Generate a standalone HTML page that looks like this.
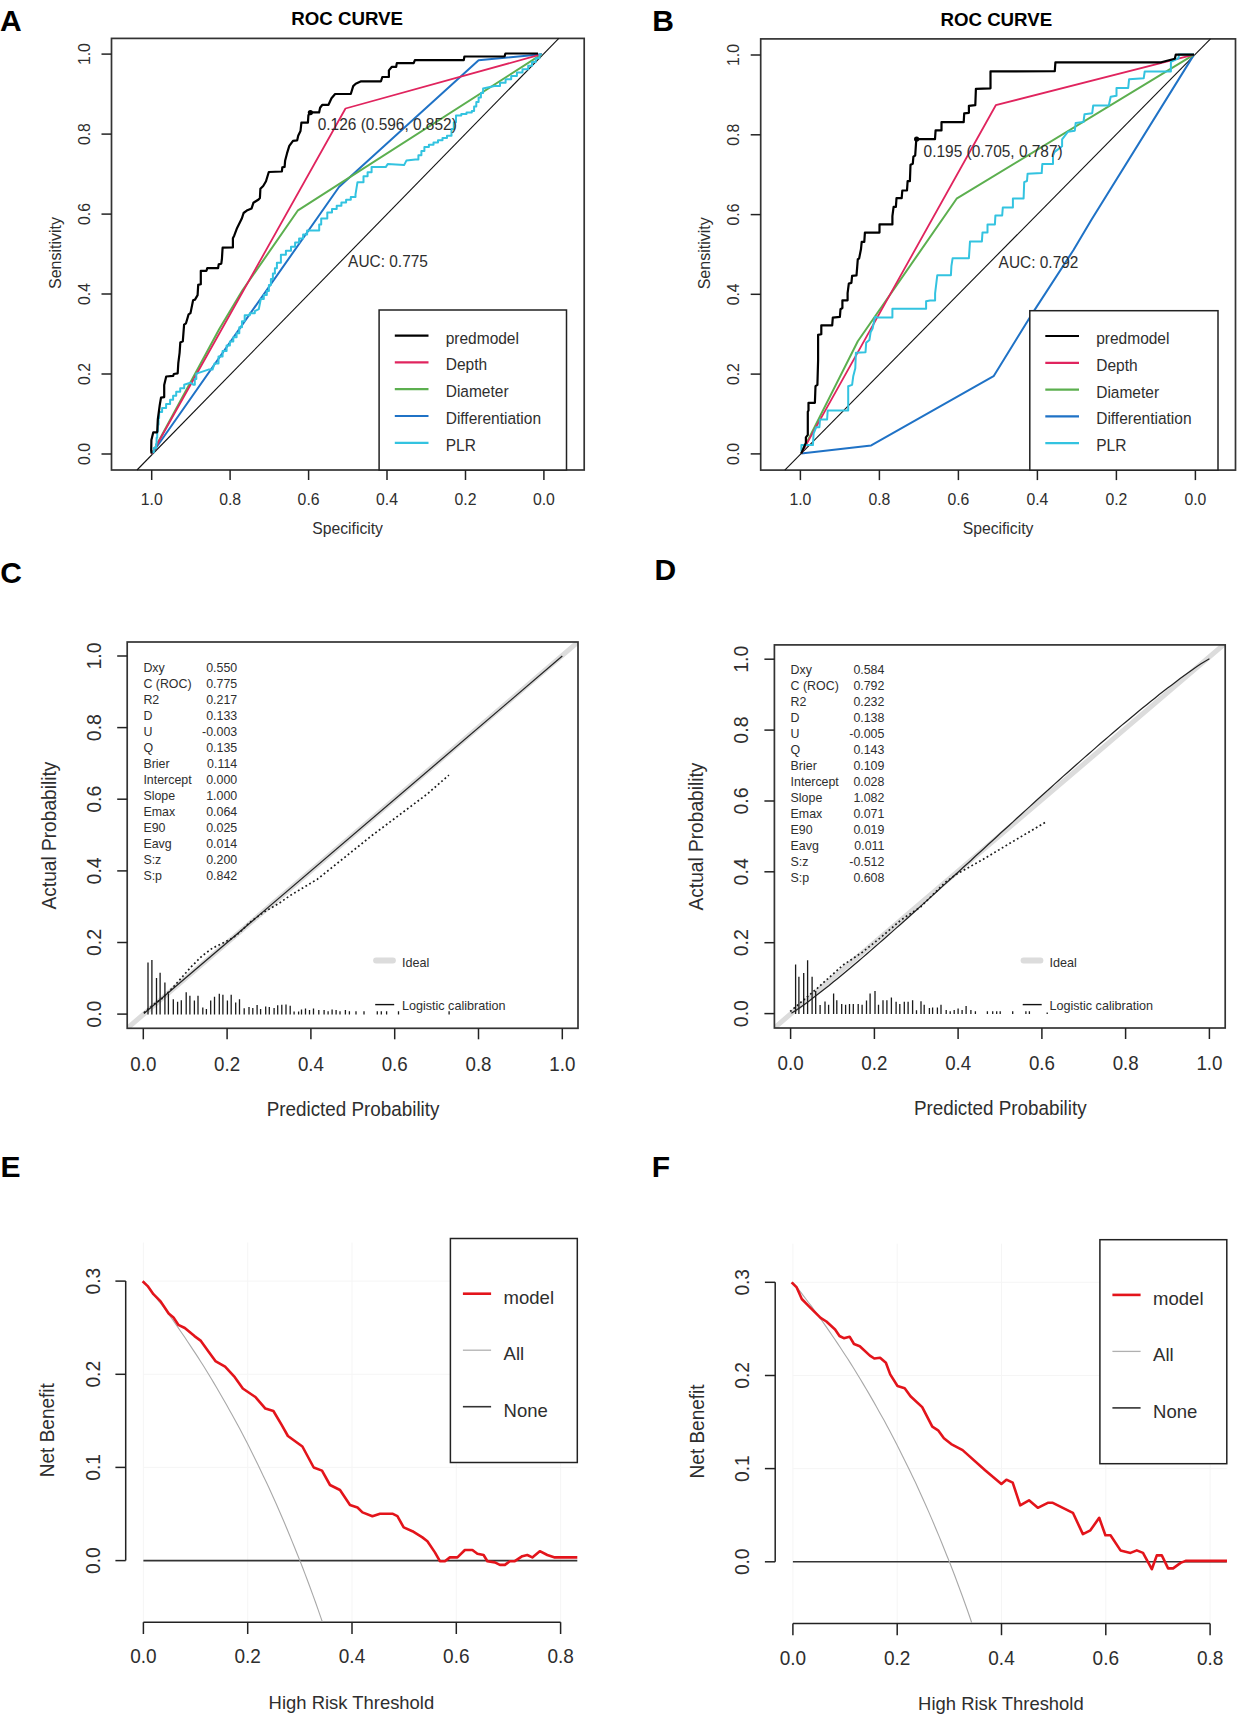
<!DOCTYPE html>
<html><head><meta charset="utf-8"><style>
html,body{margin:0;padding:0;background:#fff;}
svg{display:block;}
text{font-family:"Liberation Sans", sans-serif;}
</style></head><body>
<svg width="1241" height="1717" viewBox="0 0 1241 1717">
<rect width="1241" height="1717" fill="#fff"/>
<rect x="111.5" y="38.4" width="472.7" height="431.6" fill="none" stroke="#333" stroke-width="1.7"/>
<line x1="137.0" y1="470.0" x2="558.8" y2="38.4" stroke="#111" stroke-width="1.1" />
<line x1="151.7" y1="470.0" x2="151.7" y2="480.0" stroke="#222" stroke-width="1.5" />
<text transform="translate(151.70,498.50) scale(0.93,1)" x="0" y="6.09" font-size="17" text-anchor="middle" font-weight="normal" fill="#2e2e2e">1.0</text>
<line x1="230.1" y1="470.0" x2="230.1" y2="480.0" stroke="#222" stroke-width="1.5" />
<text transform="translate(230.14,498.50) scale(0.93,1)" x="0" y="6.09" font-size="17" text-anchor="middle" font-weight="normal" fill="#2e2e2e">0.8</text>
<line x1="308.6" y1="470.0" x2="308.6" y2="480.0" stroke="#222" stroke-width="1.5" />
<text transform="translate(308.58,498.50) scale(0.93,1)" x="0" y="6.09" font-size="17" text-anchor="middle" font-weight="normal" fill="#2e2e2e">0.6</text>
<line x1="387.0" y1="470.0" x2="387.0" y2="480.0" stroke="#222" stroke-width="1.5" />
<text transform="translate(387.02,498.50) scale(0.93,1)" x="0" y="6.09" font-size="17" text-anchor="middle" font-weight="normal" fill="#2e2e2e">0.4</text>
<line x1="465.5" y1="470.0" x2="465.5" y2="480.0" stroke="#222" stroke-width="1.5" />
<text transform="translate(465.46,498.50) scale(0.93,1)" x="0" y="6.09" font-size="17" text-anchor="middle" font-weight="normal" fill="#2e2e2e">0.2</text>
<line x1="543.9" y1="470.0" x2="543.9" y2="480.0" stroke="#222" stroke-width="1.5" />
<text transform="translate(543.90,498.50) scale(0.93,1)" x="0" y="6.09" font-size="17" text-anchor="middle" font-weight="normal" fill="#2e2e2e">0.0</text>
<line x1="101.5" y1="454.0" x2="111.5" y2="454.0" stroke="#222" stroke-width="1.5" />
<text transform="translate(83.90,454.00) rotate(-90) scale(0.93,1)" x="0" y="6.09" font-size="17" text-anchor="middle" font-weight="normal" fill="#2e2e2e">0.0</text>
<line x1="101.5" y1="374.0" x2="111.5" y2="374.0" stroke="#222" stroke-width="1.5" />
<text transform="translate(83.90,374.02) rotate(-90) scale(0.93,1)" x="0" y="6.09" font-size="17" text-anchor="middle" font-weight="normal" fill="#2e2e2e">0.2</text>
<line x1="101.5" y1="294.0" x2="111.5" y2="294.0" stroke="#222" stroke-width="1.5" />
<text transform="translate(83.90,294.04) rotate(-90) scale(0.93,1)" x="0" y="6.09" font-size="17" text-anchor="middle" font-weight="normal" fill="#2e2e2e">0.4</text>
<line x1="101.5" y1="214.1" x2="111.5" y2="214.1" stroke="#222" stroke-width="1.5" />
<text transform="translate(83.90,214.06) rotate(-90) scale(0.93,1)" x="0" y="6.09" font-size="17" text-anchor="middle" font-weight="normal" fill="#2e2e2e">0.6</text>
<line x1="101.5" y1="134.1" x2="111.5" y2="134.1" stroke="#222" stroke-width="1.5" />
<text transform="translate(83.90,134.08) rotate(-90) scale(0.93,1)" x="0" y="6.09" font-size="17" text-anchor="middle" font-weight="normal" fill="#2e2e2e">0.8</text>
<line x1="101.5" y1="54.1" x2="111.5" y2="54.1" stroke="#222" stroke-width="1.5" />
<text transform="translate(83.90,54.10) rotate(-90) scale(0.93,1)" x="0" y="6.09" font-size="17" text-anchor="middle" font-weight="normal" fill="#2e2e2e">1.0</text>
<text transform="translate(347.65,527.75) scale(0.93,1)" x="0" y="6.05" font-size="16.9" text-anchor="middle" font-weight="normal" fill="#2e2e2e">Specificity</text>
<text transform="translate(55.00,253.00) rotate(-90)" x="0" y="5.73" font-size="16" text-anchor="middle" font-weight="normal" fill="#2e2e2e">Sensitivity</text>
<text transform="translate(347.10,18.70)" x="0" y="6.69" font-size="18.7" text-anchor="middle" font-weight="bold" fill="#000">ROC CURVE</text>
<polyline points="151.7,454.0 339.0,187.0 478.6,60.2 541.9,54.2" fill="none" stroke="#1F72C6" stroke-width="2.0" stroke-linejoin="round" stroke-linecap="butt" />
<polyline points="151.7,454.0 219.3,328.9 242.5,290.3 298.0,210.3 541.9,54.2" fill="none" stroke="#5CAF4F" stroke-width="2.0" stroke-linejoin="round" stroke-linecap="butt" />
<polyline points="151.7,454.0 345.5,108.5 541.9,54.2" fill="none" stroke="#E0245E" stroke-width="1.8" stroke-linejoin="round" stroke-linecap="butt" />
<polyline points="151.6,452.2 153.8,452.2 153.8,448.1 156.0,448.1 156.0,444.1 156.6,444.1 156.6,437.7 157.2,437.7 157.2,431.2 157.9,431.2 157.9,424.8 158.5,424.8 158.5,418.3 159.1,418.3 159.1,411.9 162.1,411.9 162.1,407.9 166.1,407.9 166.1,403.9 170.1,403.9 170.1,399.8 173.1,399.8 173.1,395.8 176.2,395.8 176.2,391.7 180.2,391.7 180.2,388.2 184.2,388.2 184.2,384.7 190.3,382.7 193.3,384.7 194.8,384.7 194.8,379.1 196.3,379.1 196.3,373.6 202.4,371.6 208.4,369.6 212.5,369.6 214.5,363.5 218.5,363.5 218.5,356.5 222.6,356.5 222.6,350.9 226.6,350.9 226.6,345.4 229.9,345.4 229.9,341.4 233.3,341.4 233.3,337.3 236.6,337.3 236.6,333.3 239.3,333.3 239.3,327.3 242.0,327.3 242.0,321.2 244.7,321.2 244.7,315.2 249.8,315.2 249.8,313.2 254.8,313.2 254.8,311.2 258.8,309.1 260.8,299.1 263.8,299.1 263.8,295.1 266.8,295.1 266.8,291.0 268.9,291.0 268.9,284.9 270.9,284.9 270.9,278.9 272.9,278.9 272.9,273.5 274.9,273.5 274.9,268.2 276.9,268.2 276.9,262.8 280.9,262.8 280.9,254.8 285.9,254.8 285.9,250.8 291.0,250.8 291.0,246.7 295.1,246.7 295.1,242.6 299.1,242.6 299.1,238.6 303.1,238.6 303.1,234.6 307.1,234.6 307.1,230.6 317.2,230.6 319.2,230.6 319.2,224.6 321.2,224.6 321.2,218.5 327.3,218.5 327.3,212.4 332.0,212.4 332.0,209.1 336.7,209.1 336.7,205.7 341.4,205.7 341.4,202.4 346.1,202.4 346.1,199.7 350.8,199.7 350.8,197.0 355.5,197.0 355.5,194.3 357.5,182.2 363.5,182.2 363.5,176.2 367.6,176.2 367.6,172.2 371.6,172.2 371.6,167.1 385.7,167.1 387.7,164.1 404.1,165.1 406.4,160.6 415.4,159.4 418.4,159.4 418.4,155.3 421.4,155.3 421.4,151.1 424.4,151.1 424.4,147.0 428.9,147.0 428.9,144.8 433.5,144.8 433.5,142.5 438.0,142.5 438.0,140.3 442.5,140.3 442.5,138.0 447.0,138.0 447.0,135.7 451.5,135.7 451.5,129.0 453.8,129.0 453.8,122.2 456.0,122.2 456.0,115.4 461.3,115.4 461.3,113.9 466.5,113.9 466.5,112.4 471.8,112.4 471.8,110.9 474.1,110.9 474.1,106.4 476.3,106.4 476.3,101.9 478.6,101.9 478.6,97.4 480.9,97.4 480.9,92.9 483.1,92.9 483.1,88.4 494.4,86.1 500.0,86.1 500.0,82.7 505.6,82.7 505.6,79.3 511.2,79.3 511.2,75.9 516.9,75.9 516.9,72.6 522.5,72.6 522.5,69.2 528.2,69.2 528.2,65.8 532.0,65.8 532.0,62.0 535.7,62.0 535.7,58.3 539.5,58.3 539.5,54.5 541.9,54.2" fill="none" stroke="#33C3E0" stroke-width="2.0" stroke-linejoin="round" stroke-linecap="butt" />
<polyline points="151.5,453.5 151.2,450.3 151.4,440.0 153.3,432.3 157.2,432.3 157.8,419.5 159.7,405.4 161.0,397.7 164.2,397.1 164.2,384.9 166.2,376.5 173.2,375.9 173.8,374.0 177.7,373.3 178.3,363.1 179.6,352.8 180.3,342.6 182.8,341.3 184.1,324.6 186.0,323.3 188.6,314.4 190.5,313.1 193.1,300.3 195.0,299.6 197.6,295.1 198.2,284.9 200.8,284.2 200.8,270.8 206.5,270.8 207.2,268.2 218.1,268.2 218.7,264.4 221.3,263.7 221.9,259.2 222.6,247.7 232.9,247.5 232.9,238.2 234.3,235.4 237.1,227.9 241.8,218.6 243.6,213.0 247.4,210.2 251.6,208.4 253.4,202.8 258.6,199.5 259.9,198.1 260.4,188.8 263.2,186.0 266.0,181.3 268.8,172.0 281.9,171.5 282.3,167.4 284.6,166.9 285.1,160.8 287.0,153.4 289.3,145.9 293.0,140.8 297.2,140.3 298.2,135.7 300.5,131.0 301.4,122.6 307.9,122.6 308.4,115.2 310.7,112.4 319.1,112.4 320.1,107.7 322.4,104.8 328.5,104.8 331.5,98.2 335.1,94.0 350.8,94.0 353.2,86.1 355.7,83.7 361.1,81.3 381.0,81.3 382.3,77.0 388.9,77.0 388.9,70.4 391.9,66.8 396.2,66.8 396.8,63.1 413.7,63.1 414.9,60.1 463.8,60.1 464.4,56.5 504.6,56.4 505.4,53.5 538.0,53.5" fill="none" stroke="#000" stroke-width="2.2" stroke-linejoin="round" stroke-linecap="butt" />
<circle cx="310.4" cy="112.6" r="2.6" fill="#000"/>
<rect x="379.1" y="310.0" width="187.4" height="160.0" fill="#fff" stroke="#222" stroke-width="1.5"/>
<line x1="394.8" y1="335.6" x2="428.5" y2="335.6" stroke="#000" stroke-width="2.2" />
<text transform="translate(445.70,337.65) scale(0.935,1)" x="0" y="5.94" font-size="16.6" text-anchor="start" font-weight="normal" fill="#2e2e2e">predmodel</text>
<line x1="394.8" y1="362.4" x2="428.5" y2="362.4" stroke="#E0245E" stroke-width="2.2" />
<text transform="translate(445.70,364.45) scale(0.935,1)" x="0" y="5.94" font-size="16.6" text-anchor="start" font-weight="normal" fill="#2e2e2e">Depth</text>
<line x1="394.8" y1="389.2" x2="428.5" y2="389.2" stroke="#5CAF4F" stroke-width="2.2" />
<text transform="translate(445.70,391.25) scale(0.935,1)" x="0" y="5.94" font-size="16.6" text-anchor="start" font-weight="normal" fill="#2e2e2e">Diameter</text>
<line x1="394.8" y1="416.0" x2="428.5" y2="416.0" stroke="#1F72C6" stroke-width="2.2" />
<text transform="translate(445.70,418.05) scale(0.935,1)" x="0" y="5.94" font-size="16.6" text-anchor="start" font-weight="normal" fill="#2e2e2e">Differentiation</text>
<line x1="394.8" y1="442.8" x2="428.5" y2="442.8" stroke="#33C3E0" stroke-width="2.2" />
<text transform="translate(445.70,444.85) scale(0.935,1)" x="0" y="5.94" font-size="16.6" text-anchor="start" font-weight="normal" fill="#2e2e2e">PLR</text>
<text transform="translate(317.70,123.70) scale(0.937,1)" x="0" y="5.91" font-size="16.5" text-anchor="start" font-weight="normal" fill="#2e2e2e">0.126 (0.596, 0.852)</text>
<text transform="translate(348.10,261.00) scale(0.937,1)" x="0" y="5.91" font-size="16.5" text-anchor="start" font-weight="normal" fill="#2e2e2e">AUC: 0.775</text>
<rect x="760.7" y="38.9" width="474.8" height="431.2" fill="none" stroke="#333" stroke-width="1.7"/>
<line x1="784.8" y1="470.1" x2="1210.5" y2="38.9" stroke="#111" stroke-width="1.1" />
<line x1="800.4" y1="470.1" x2="800.4" y2="480.1" stroke="#222" stroke-width="1.5" />
<text transform="translate(800.40,498.80) scale(0.93,1)" x="0" y="6.09" font-size="17" text-anchor="middle" font-weight="normal" fill="#2e2e2e">1.0</text>
<line x1="879.4" y1="470.1" x2="879.4" y2="480.1" stroke="#222" stroke-width="1.5" />
<text transform="translate(879.40,498.80) scale(0.93,1)" x="0" y="6.09" font-size="17" text-anchor="middle" font-weight="normal" fill="#2e2e2e">0.8</text>
<line x1="958.4" y1="470.1" x2="958.4" y2="480.1" stroke="#222" stroke-width="1.5" />
<text transform="translate(958.40,498.80) scale(0.93,1)" x="0" y="6.09" font-size="17" text-anchor="middle" font-weight="normal" fill="#2e2e2e">0.6</text>
<line x1="1037.4" y1="470.1" x2="1037.4" y2="480.1" stroke="#222" stroke-width="1.5" />
<text transform="translate(1037.40,498.80) scale(0.93,1)" x="0" y="6.09" font-size="17" text-anchor="middle" font-weight="normal" fill="#2e2e2e">0.4</text>
<line x1="1116.4" y1="470.1" x2="1116.4" y2="480.1" stroke="#222" stroke-width="1.5" />
<text transform="translate(1116.40,498.80) scale(0.93,1)" x="0" y="6.09" font-size="17" text-anchor="middle" font-weight="normal" fill="#2e2e2e">0.2</text>
<line x1="1195.4" y1="470.1" x2="1195.4" y2="480.1" stroke="#222" stroke-width="1.5" />
<text transform="translate(1195.40,498.80) scale(0.93,1)" x="0" y="6.09" font-size="17" text-anchor="middle" font-weight="normal" fill="#2e2e2e">0.0</text>
<line x1="750.7" y1="453.9" x2="760.7" y2="453.9" stroke="#222" stroke-width="1.5" />
<text transform="translate(733.10,453.90) rotate(-90) scale(0.93,1)" x="0" y="6.09" font-size="17" text-anchor="middle" font-weight="normal" fill="#2e2e2e">0.0</text>
<line x1="750.7" y1="374.1" x2="760.7" y2="374.1" stroke="#222" stroke-width="1.5" />
<text transform="translate(733.10,374.12) rotate(-90) scale(0.93,1)" x="0" y="6.09" font-size="17" text-anchor="middle" font-weight="normal" fill="#2e2e2e">0.2</text>
<line x1="750.7" y1="294.3" x2="760.7" y2="294.3" stroke="#222" stroke-width="1.5" />
<text transform="translate(733.10,294.34) rotate(-90) scale(0.93,1)" x="0" y="6.09" font-size="17" text-anchor="middle" font-weight="normal" fill="#2e2e2e">0.4</text>
<line x1="750.7" y1="214.6" x2="760.7" y2="214.6" stroke="#222" stroke-width="1.5" />
<text transform="translate(733.10,214.56) rotate(-90) scale(0.93,1)" x="0" y="6.09" font-size="17" text-anchor="middle" font-weight="normal" fill="#2e2e2e">0.6</text>
<line x1="750.7" y1="134.8" x2="760.7" y2="134.8" stroke="#222" stroke-width="1.5" />
<text transform="translate(733.10,134.78) rotate(-90) scale(0.93,1)" x="0" y="6.09" font-size="17" text-anchor="middle" font-weight="normal" fill="#2e2e2e">0.8</text>
<line x1="750.7" y1="55.0" x2="760.7" y2="55.0" stroke="#222" stroke-width="1.5" />
<text transform="translate(733.10,55.00) rotate(-90) scale(0.93,1)" x="0" y="6.09" font-size="17" text-anchor="middle" font-weight="normal" fill="#2e2e2e">1.0</text>
<text transform="translate(998.05,528.05) scale(0.93,1)" x="0" y="6.05" font-size="16.9" text-anchor="middle" font-weight="normal" fill="#2e2e2e">Specificity</text>
<text transform="translate(704.20,253.30) rotate(-90)" x="0" y="5.73" font-size="16" text-anchor="middle" font-weight="normal" fill="#2e2e2e">Sensitivity</text>
<text transform="translate(996.30,19.00)" x="0" y="6.69" font-size="18.7" text-anchor="middle" font-weight="bold" fill="#000">ROC CURVE</text>
<polyline points="801.2,453.6 871.2,445.4 993.6,376.2 1029.8,317.4 1073.5,250.0 1091.3,220.0 1194.0,54.6" fill="none" stroke="#1F72C6" stroke-width="2.0" stroke-linejoin="round" stroke-linecap="butt" />
<polyline points="801.2,453.6 857.8,341.3 956.6,198.7 1194.0,54.6" fill="none" stroke="#5CAF4F" stroke-width="2.0" stroke-linejoin="round" stroke-linecap="butt" />
<polyline points="801.2,453.6 995.8,105.2 1194.0,54.6" fill="none" stroke="#E0245E" stroke-width="1.8" stroke-linejoin="round" stroke-linecap="butt" />
<polyline points="801.4,451.5 801.4,445.1 812.9,445.1 813.6,433.6 816.2,427.2 819.4,427.2 820.0,419.5 827.1,419.5 827.7,410.5 848.2,410.5 848.2,386.2 852.1,384.9 853.3,375.9 855.3,368.2 855.9,352.8 865.5,352.2 866.2,342.6 869.4,340.0 870.6,332.3 872.6,328.5 875.0,316.9 877.4,317.4 892.4,317.4 892.4,308.7 926.1,308.7 926.1,301.2 930.0,300.6 935.1,300.6 935.1,293.3 937.3,275.2 950.9,275.2 951.4,266.2 952.6,258.3 968.9,258.3 970.0,241.4 981.9,241.4 982.5,232.4 987.5,232.4 987.5,224.5 994.9,224.5 995.4,215.4 1002.2,215.4 1002.8,207.5 1012.9,207.5 1012.9,198.5 1023.6,198.5 1024.2,182.2 1027.0,181.0 1027.6,173.7 1041.7,173.1 1042.3,164.1 1053.0,164.1 1053.0,155.6 1054.4,152.1 1062.1,146.2 1062.1,139.4 1068.0,131.7 1074.8,130.7 1075.7,122.9 1083.5,122.0 1084.5,114.2 1092.2,113.2 1093.2,105.5 1108.8,105.5 1110.7,96.7 1116.5,95.7 1116.5,88.0 1128.2,88.0 1129.1,79.2 1143.7,78.3 1144.7,71.5 1170.9,71.5 1170.9,61.8 1178.7,58.0 1178.7,54.6 1194.0,54.6" fill="none" stroke="#33C3E0" stroke-width="2.0" stroke-linejoin="round" stroke-linecap="butt" />
<polyline points="801.2,453.6 805.9,442.6 805.9,437.4 807.8,434.9 807.8,411.8 808.5,410.5 808.5,402.8 814.9,402.8 815.5,386.2 817.4,384.9 818.1,360.5 818.1,334.9 821.3,334.2 821.3,325.3 832.2,325.3 832.8,317.6 839.9,316.9 840.5,309.2 842.4,308.0 842.4,300.3 847.6,300.3 847.6,293.2 848.8,283.6 851.4,282.9 852.1,275.9 856.5,275.3 857.2,266.9 857.8,259.2 859.1,258.6 861.0,249.0 861.7,241.9 864.3,241.9 864.9,232.6 879.5,232.6 879.5,224.4 892.4,224.4 892.4,216.2 893.6,206.9 895.9,206.9 896.5,198.1 901.7,198.1 902.3,190.5 907.0,190.5 907.6,181.2 909.9,181.2 910.5,164.8 912.8,163.7 913.4,156.6 915.2,155.5 916.3,139.1 935.0,139.1 935.6,130.4 941.5,130.4 941.5,122.2 963.7,122.2 964.2,113.4 968.9,112.8 968.9,105.8 975.3,105.2 975.9,88.9 990.5,88.3 990.5,71.4 1054.8,71.2 1055.4,62.3 1161.2,62.3 1174.8,58.8 1175.8,54.6 1194.0,54.6" fill="none" stroke="#000" stroke-width="2.2" stroke-linejoin="round" stroke-linecap="butt" />
<circle cx="916.6" cy="139.1" r="2.6" fill="#000"/>
<rect x="1029.8" y="310.7" width="188.2" height="159.4" fill="#fff" stroke="#222" stroke-width="1.5"/>
<line x1="1045.3" y1="336.0" x2="1079.0" y2="336.0" stroke="#000" stroke-width="2.2" />
<text transform="translate(1096.20,338.05) scale(0.935,1)" x="0" y="5.94" font-size="16.6" text-anchor="start" font-weight="normal" fill="#2e2e2e">predmodel</text>
<line x1="1045.3" y1="362.8" x2="1079.0" y2="362.8" stroke="#E0245E" stroke-width="2.2" />
<text transform="translate(1096.20,364.85) scale(0.935,1)" x="0" y="5.94" font-size="16.6" text-anchor="start" font-weight="normal" fill="#2e2e2e">Depth</text>
<line x1="1045.3" y1="389.6" x2="1079.0" y2="389.6" stroke="#5CAF4F" stroke-width="2.2" />
<text transform="translate(1096.20,391.65) scale(0.935,1)" x="0" y="5.94" font-size="16.6" text-anchor="start" font-weight="normal" fill="#2e2e2e">Diameter</text>
<line x1="1045.3" y1="416.4" x2="1079.0" y2="416.4" stroke="#1F72C6" stroke-width="2.2" />
<text transform="translate(1096.20,418.45) scale(0.935,1)" x="0" y="5.94" font-size="16.6" text-anchor="start" font-weight="normal" fill="#2e2e2e">Differentiation</text>
<line x1="1045.3" y1="443.2" x2="1079.0" y2="443.2" stroke="#33C3E0" stroke-width="2.2" />
<text transform="translate(1096.20,445.25) scale(0.935,1)" x="0" y="5.94" font-size="16.6" text-anchor="start" font-weight="normal" fill="#2e2e2e">PLR</text>
<text transform="translate(923.60,151.20) scale(0.937,1)" x="0" y="5.91" font-size="16.5" text-anchor="start" font-weight="normal" fill="#2e2e2e">0.195 (0.705, 0.787)</text>
<text transform="translate(998.60,261.80) scale(0.937,1)" x="0" y="5.91" font-size="16.5" text-anchor="start" font-weight="normal" fill="#2e2e2e">AUC: 0.792</text>
<clipPath id="cp0"><rect x="127.2" y="642" width="450.8" height="386.29999999999995"/></clipPath>
<g clip-path="url(#cp0)">
<line x1="120.2" y1="1034.3" x2="583.0" y2="637.7" stroke="#dcdcdc" stroke-width="5" stroke-linecap="round"/>
</g>
<rect x="127.2" y="642.0" width="450.8" height="386.3" fill="none" stroke="#333" stroke-width="1.7"/>
<line x1="143.3" y1="1028.3" x2="143.3" y2="1039.3" stroke="#222" stroke-width="1.5" />
<text transform="translate(143.30,1063.10) scale(0.9,1)" x="0" y="7.45" font-size="20.8" text-anchor="middle" font-weight="normal" fill="#2e2e2e">0.0</text>
<line x1="117.2" y1="1014.1" x2="127.2" y2="1014.1" stroke="#222" stroke-width="1.5" />
<text transform="translate(93.35,1014.10) rotate(-90) scale(0.94,1)" x="0" y="7.45" font-size="20.8" text-anchor="middle" font-weight="normal" fill="#2e2e2e">0.0</text>
<line x1="227.1" y1="1028.3" x2="227.1" y2="1039.3" stroke="#222" stroke-width="1.5" />
<text transform="translate(227.10,1063.10) scale(0.9,1)" x="0" y="7.45" font-size="20.8" text-anchor="middle" font-weight="normal" fill="#2e2e2e">0.2</text>
<line x1="117.2" y1="942.5" x2="127.2" y2="942.5" stroke="#222" stroke-width="1.5" />
<text transform="translate(93.35,942.48) rotate(-90) scale(0.94,1)" x="0" y="7.45" font-size="20.8" text-anchor="middle" font-weight="normal" fill="#2e2e2e">0.2</text>
<line x1="310.9" y1="1028.3" x2="310.9" y2="1039.3" stroke="#222" stroke-width="1.5" />
<text transform="translate(310.90,1063.10) scale(0.9,1)" x="0" y="7.45" font-size="20.8" text-anchor="middle" font-weight="normal" fill="#2e2e2e">0.4</text>
<line x1="117.2" y1="870.9" x2="127.2" y2="870.9" stroke="#222" stroke-width="1.5" />
<text transform="translate(93.35,870.86) rotate(-90) scale(0.94,1)" x="0" y="7.45" font-size="20.8" text-anchor="middle" font-weight="normal" fill="#2e2e2e">0.4</text>
<line x1="394.7" y1="1028.3" x2="394.7" y2="1039.3" stroke="#222" stroke-width="1.5" />
<text transform="translate(394.70,1063.10) scale(0.9,1)" x="0" y="7.45" font-size="20.8" text-anchor="middle" font-weight="normal" fill="#2e2e2e">0.6</text>
<line x1="117.2" y1="799.2" x2="127.2" y2="799.2" stroke="#222" stroke-width="1.5" />
<text transform="translate(93.35,799.24) rotate(-90) scale(0.94,1)" x="0" y="7.45" font-size="20.8" text-anchor="middle" font-weight="normal" fill="#2e2e2e">0.6</text>
<line x1="478.5" y1="1028.3" x2="478.5" y2="1039.3" stroke="#222" stroke-width="1.5" />
<text transform="translate(478.50,1063.10) scale(0.9,1)" x="0" y="7.45" font-size="20.8" text-anchor="middle" font-weight="normal" fill="#2e2e2e">0.8</text>
<line x1="117.2" y1="727.6" x2="127.2" y2="727.6" stroke="#222" stroke-width="1.5" />
<text transform="translate(93.35,727.62) rotate(-90) scale(0.94,1)" x="0" y="7.45" font-size="20.8" text-anchor="middle" font-weight="normal" fill="#2e2e2e">0.8</text>
<line x1="562.3" y1="1028.3" x2="562.3" y2="1039.3" stroke="#222" stroke-width="1.5" />
<text transform="translate(562.30,1063.10) scale(0.9,1)" x="0" y="7.45" font-size="20.8" text-anchor="middle" font-weight="normal" fill="#2e2e2e">1.0</text>
<line x1="117.2" y1="656.0" x2="127.2" y2="656.0" stroke="#222" stroke-width="1.5" />
<text transform="translate(93.35,656.00) rotate(-90) scale(0.94,1)" x="0" y="7.45" font-size="20.8" text-anchor="middle" font-weight="normal" fill="#2e2e2e">1.0</text>
<text transform="translate(353.05,1108.75) scale(0.928,1)" x="0" y="7.27" font-size="20.3" text-anchor="middle" font-weight="normal" fill="#2e2e2e">Predicted Probability</text>
<text transform="translate(48.30,835.60) rotate(-90) scale(0.925,1)" x="0" y="7.41" font-size="20.7" text-anchor="middle" font-weight="normal" fill="#2e2e2e">Actual Probability</text>
<text transform="translate(143.40,667.35)" x="0" y="4.44" font-size="12.4" text-anchor="start" font-weight="normal" fill="#2e2e2e">Dxy</text>
<text transform="translate(237.20,667.35)" x="0" y="4.44" font-size="12.4" text-anchor="end" font-weight="normal" fill="#2e2e2e">0.550</text>
<text transform="translate(143.40,683.35)" x="0" y="4.44" font-size="12.4" text-anchor="start" font-weight="normal" fill="#2e2e2e">C (ROC)</text>
<text transform="translate(237.20,683.35)" x="0" y="4.44" font-size="12.4" text-anchor="end" font-weight="normal" fill="#2e2e2e">0.775</text>
<text transform="translate(143.40,699.35)" x="0" y="4.44" font-size="12.4" text-anchor="start" font-weight="normal" fill="#2e2e2e">R2</text>
<text transform="translate(237.20,699.35)" x="0" y="4.44" font-size="12.4" text-anchor="end" font-weight="normal" fill="#2e2e2e">0.217</text>
<text transform="translate(143.40,715.35)" x="0" y="4.44" font-size="12.4" text-anchor="start" font-weight="normal" fill="#2e2e2e">D</text>
<text transform="translate(237.20,715.35)" x="0" y="4.44" font-size="12.4" text-anchor="end" font-weight="normal" fill="#2e2e2e">0.133</text>
<text transform="translate(143.40,731.35)" x="0" y="4.44" font-size="12.4" text-anchor="start" font-weight="normal" fill="#2e2e2e">U</text>
<text transform="translate(237.20,731.35)" x="0" y="4.44" font-size="12.4" text-anchor="end" font-weight="normal" fill="#2e2e2e">-0.003</text>
<text transform="translate(143.40,747.35)" x="0" y="4.44" font-size="12.4" text-anchor="start" font-weight="normal" fill="#2e2e2e">Q</text>
<text transform="translate(237.20,747.35)" x="0" y="4.44" font-size="12.4" text-anchor="end" font-weight="normal" fill="#2e2e2e">0.135</text>
<text transform="translate(143.40,763.35)" x="0" y="4.44" font-size="12.4" text-anchor="start" font-weight="normal" fill="#2e2e2e">Brier</text>
<text transform="translate(237.20,763.35)" x="0" y="4.44" font-size="12.4" text-anchor="end" font-weight="normal" fill="#2e2e2e">0.114</text>
<text transform="translate(143.40,779.35)" x="0" y="4.44" font-size="12.4" text-anchor="start" font-weight="normal" fill="#2e2e2e">Intercept</text>
<text transform="translate(237.20,779.35)" x="0" y="4.44" font-size="12.4" text-anchor="end" font-weight="normal" fill="#2e2e2e">0.000</text>
<text transform="translate(143.40,795.35)" x="0" y="4.44" font-size="12.4" text-anchor="start" font-weight="normal" fill="#2e2e2e">Slope</text>
<text transform="translate(237.20,795.35)" x="0" y="4.44" font-size="12.4" text-anchor="end" font-weight="normal" fill="#2e2e2e">1.000</text>
<text transform="translate(143.40,811.35)" x="0" y="4.44" font-size="12.4" text-anchor="start" font-weight="normal" fill="#2e2e2e">Emax</text>
<text transform="translate(237.20,811.35)" x="0" y="4.44" font-size="12.4" text-anchor="end" font-weight="normal" fill="#2e2e2e">0.064</text>
<text transform="translate(143.40,827.35)" x="0" y="4.44" font-size="12.4" text-anchor="start" font-weight="normal" fill="#2e2e2e">E90</text>
<text transform="translate(237.20,827.35)" x="0" y="4.44" font-size="12.4" text-anchor="end" font-weight="normal" fill="#2e2e2e">0.025</text>
<text transform="translate(143.40,843.35)" x="0" y="4.44" font-size="12.4" text-anchor="start" font-weight="normal" fill="#2e2e2e">Eavg</text>
<text transform="translate(237.20,843.35)" x="0" y="4.44" font-size="12.4" text-anchor="end" font-weight="normal" fill="#2e2e2e">0.014</text>
<text transform="translate(143.40,859.35)" x="0" y="4.44" font-size="12.4" text-anchor="start" font-weight="normal" fill="#2e2e2e">S:z</text>
<text transform="translate(237.20,859.35)" x="0" y="4.44" font-size="12.4" text-anchor="end" font-weight="normal" fill="#2e2e2e">0.200</text>
<text transform="translate(143.40,875.35)" x="0" y="4.44" font-size="12.4" text-anchor="start" font-weight="normal" fill="#2e2e2e">S:p</text>
<text transform="translate(237.20,875.35)" x="0" y="4.44" font-size="12.4" text-anchor="end" font-weight="normal" fill="#2e2e2e">0.842</text>
<path d="M148.0,1014.6V962.5M151.9,1014.6V959.9M156.5,1014.6V978.0M160.1,1014.6V972.8M164.9,1014.6V982.5M168.4,1014.6V993.5M173.3,1014.6V999.3M177.6,1014.6V1001.8M181.3,1014.6V1000.2M186.2,1014.6V992.2M189.9,1014.6V995.8M194.4,1014.6V1000.6M198.0,1014.6V995.8M202.8,1014.6V1007.6M206.4,1014.6V1008.9M210.7,1014.6V1000.6M214.5,1014.6V996.7M219.3,1014.6V993.7M222.9,1014.6V994.8M227.4,1014.6V1000.6M231.2,1014.6V994.8M235.7,1014.6V1002.5M239.5,1014.6V999.3M244.2,1014.6V1008.3M249.0,1014.6V1007.0M252.8,1014.6V1007.9M257.1,1014.6V1005.1M260.6,1014.6V1008.9M265.7,1014.6V1006.6M269.3,1014.6V1007.0M274.1,1014.6V1007.9M277.7,1014.6V1005.3M281.8,1014.6V1004.8M286.0,1014.6V1004.4M290.2,1014.6V1005.7M294.1,1014.6V1011.5M298.6,1014.6V1011.5M301.5,1014.6V1009.4M305.5,1014.6V1008.6M309.5,1014.6V1009.9M313.5,1014.6V1008.6M318.8,1014.6V1009.9M324.1,1014.6V1009.9M328.1,1014.6V1011.3M332.1,1014.6V1009.4M336.1,1014.6V1009.9M340.0,1014.6V1011.3M345.4,1014.6V1009.9M349.4,1014.6V1011.3M356.0,1014.6V1011.3M364.0,1014.6V1011.3M377.3,1014.6V1011.3M381.3,1014.6V1011.3M386.6,1014.6V1011.3M398.5,1014.6V1011.3M449.1,1014.6V1011.3" stroke="#1a1a1a" stroke-width="1.3" fill="none"/>
<polyline points="143.9,1013.6 562.3,656.1" fill="none" stroke="#222" stroke-width="1.25" stroke-linejoin="round" stroke-linecap="butt" />
<polyline points="143.9,1012.8 152.9,1005.1 161.9,998.6 172.2,988.3 181.3,978.0 191.6,966.4 201.9,956.1 212.2,948.3 222.5,943.2 232.8,938.0 240.6,931.6 249.6,922.5 263.8,912.2 279.2,903.2 290.0,895.6 317.4,879.2 344.8,857.3 372.2,835.3 399.6,814.8 427.0,794.2 448.9,775.1" fill="none" stroke="#1a1a1a" stroke-width="1.7" stroke-linejoin="round" stroke-linecap="butt" stroke-dasharray="1.8 2.6"/>
<line x1="376.0" y1="960.5" x2="393.0" y2="960.5" stroke="#dcdcdc" stroke-width="5.8" stroke-linecap="round"/>
<text transform="translate(401.90,962.50)" x="0" y="4.51" font-size="12.6" text-anchor="start" font-weight="normal" fill="#2e2e2e">Ideal</text>
<line x1="375.2" y1="1004.6" x2="394.2" y2="1004.6" stroke="#111" stroke-width="1.4" />
<text transform="translate(401.90,1005.10)" x="0" y="4.51" font-size="12.6" text-anchor="start" font-weight="normal" fill="#2e2e2e">Logistic calibration</text>
<clipPath id="cp647"><rect x="774.4000000000001" y="644.9" width="450.79999999999995" height="383.1"/></clipPath>
<g clip-path="url(#cp647)">
<line x1="767.4" y1="1033.8" x2="1230.2" y2="639.1" stroke="#dcdcdc" stroke-width="5" stroke-linecap="round"/>
</g>
<rect x="774.4" y="644.9" width="450.8" height="383.1" fill="none" stroke="#333" stroke-width="1.7"/>
<line x1="790.6" y1="1028.0" x2="790.6" y2="1039.0" stroke="#222" stroke-width="1.5" />
<text transform="translate(790.60,1062.30) scale(0.9,1)" x="0" y="7.45" font-size="20.8" text-anchor="middle" font-weight="normal" fill="#2e2e2e">0.0</text>
<line x1="764.4" y1="1013.6" x2="774.4" y2="1013.6" stroke="#222" stroke-width="1.5" />
<text transform="translate(740.55,1013.60) rotate(-90) scale(0.94,1)" x="0" y="7.45" font-size="20.8" text-anchor="middle" font-weight="normal" fill="#2e2e2e">0.0</text>
<line x1="874.4" y1="1028.0" x2="874.4" y2="1039.0" stroke="#222" stroke-width="1.5" />
<text transform="translate(874.36,1062.30) scale(0.9,1)" x="0" y="7.45" font-size="20.8" text-anchor="middle" font-weight="normal" fill="#2e2e2e">0.2</text>
<line x1="764.4" y1="942.7" x2="774.4" y2="942.7" stroke="#222" stroke-width="1.5" />
<text transform="translate(740.55,942.72) rotate(-90) scale(0.94,1)" x="0" y="7.45" font-size="20.8" text-anchor="middle" font-weight="normal" fill="#2e2e2e">0.2</text>
<line x1="958.1" y1="1028.0" x2="958.1" y2="1039.0" stroke="#222" stroke-width="1.5" />
<text transform="translate(958.12,1062.30) scale(0.9,1)" x="0" y="7.45" font-size="20.8" text-anchor="middle" font-weight="normal" fill="#2e2e2e">0.4</text>
<line x1="764.4" y1="871.8" x2="774.4" y2="871.8" stroke="#222" stroke-width="1.5" />
<text transform="translate(740.55,871.84) rotate(-90) scale(0.94,1)" x="0" y="7.45" font-size="20.8" text-anchor="middle" font-weight="normal" fill="#2e2e2e">0.4</text>
<line x1="1041.9" y1="1028.0" x2="1041.9" y2="1039.0" stroke="#222" stroke-width="1.5" />
<text transform="translate(1041.88,1062.30) scale(0.9,1)" x="0" y="7.45" font-size="20.8" text-anchor="middle" font-weight="normal" fill="#2e2e2e">0.6</text>
<line x1="764.4" y1="801.0" x2="774.4" y2="801.0" stroke="#222" stroke-width="1.5" />
<text transform="translate(740.55,800.96) rotate(-90) scale(0.94,1)" x="0" y="7.45" font-size="20.8" text-anchor="middle" font-weight="normal" fill="#2e2e2e">0.6</text>
<line x1="1125.6" y1="1028.0" x2="1125.6" y2="1039.0" stroke="#222" stroke-width="1.5" />
<text transform="translate(1125.64,1062.30) scale(0.9,1)" x="0" y="7.45" font-size="20.8" text-anchor="middle" font-weight="normal" fill="#2e2e2e">0.8</text>
<line x1="764.4" y1="730.1" x2="774.4" y2="730.1" stroke="#222" stroke-width="1.5" />
<text transform="translate(740.55,730.08) rotate(-90) scale(0.94,1)" x="0" y="7.45" font-size="20.8" text-anchor="middle" font-weight="normal" fill="#2e2e2e">0.8</text>
<line x1="1209.4" y1="1028.0" x2="1209.4" y2="1039.0" stroke="#222" stroke-width="1.5" />
<text transform="translate(1209.40,1062.30) scale(0.9,1)" x="0" y="7.45" font-size="20.8" text-anchor="middle" font-weight="normal" fill="#2e2e2e">1.0</text>
<line x1="764.4" y1="659.2" x2="774.4" y2="659.2" stroke="#222" stroke-width="1.5" />
<text transform="translate(740.55,659.20) rotate(-90) scale(0.94,1)" x="0" y="7.45" font-size="20.8" text-anchor="middle" font-weight="normal" fill="#2e2e2e">1.0</text>
<text transform="translate(1000.25,1107.95) scale(0.928,1)" x="0" y="7.27" font-size="20.3" text-anchor="middle" font-weight="normal" fill="#2e2e2e">Predicted Probability</text>
<text transform="translate(695.50,836.60) rotate(-90) scale(0.925,1)" x="0" y="7.41" font-size="20.7" text-anchor="middle" font-weight="normal" fill="#2e2e2e">Actual Probability</text>
<text transform="translate(790.60,669.15)" x="0" y="4.44" font-size="12.4" text-anchor="start" font-weight="normal" fill="#2e2e2e">Dxy</text>
<text transform="translate(884.40,669.15)" x="0" y="4.44" font-size="12.4" text-anchor="end" font-weight="normal" fill="#2e2e2e">0.584</text>
<text transform="translate(790.60,685.15)" x="0" y="4.44" font-size="12.4" text-anchor="start" font-weight="normal" fill="#2e2e2e">C (ROC)</text>
<text transform="translate(884.40,685.15)" x="0" y="4.44" font-size="12.4" text-anchor="end" font-weight="normal" fill="#2e2e2e">0.792</text>
<text transform="translate(790.60,701.15)" x="0" y="4.44" font-size="12.4" text-anchor="start" font-weight="normal" fill="#2e2e2e">R2</text>
<text transform="translate(884.40,701.15)" x="0" y="4.44" font-size="12.4" text-anchor="end" font-weight="normal" fill="#2e2e2e">0.232</text>
<text transform="translate(790.60,717.15)" x="0" y="4.44" font-size="12.4" text-anchor="start" font-weight="normal" fill="#2e2e2e">D</text>
<text transform="translate(884.40,717.15)" x="0" y="4.44" font-size="12.4" text-anchor="end" font-weight="normal" fill="#2e2e2e">0.138</text>
<text transform="translate(790.60,733.15)" x="0" y="4.44" font-size="12.4" text-anchor="start" font-weight="normal" fill="#2e2e2e">U</text>
<text transform="translate(884.40,733.15)" x="0" y="4.44" font-size="12.4" text-anchor="end" font-weight="normal" fill="#2e2e2e">-0.005</text>
<text transform="translate(790.60,749.15)" x="0" y="4.44" font-size="12.4" text-anchor="start" font-weight="normal" fill="#2e2e2e">Q</text>
<text transform="translate(884.40,749.15)" x="0" y="4.44" font-size="12.4" text-anchor="end" font-weight="normal" fill="#2e2e2e">0.143</text>
<text transform="translate(790.60,765.15)" x="0" y="4.44" font-size="12.4" text-anchor="start" font-weight="normal" fill="#2e2e2e">Brier</text>
<text transform="translate(884.40,765.15)" x="0" y="4.44" font-size="12.4" text-anchor="end" font-weight="normal" fill="#2e2e2e">0.109</text>
<text transform="translate(790.60,781.15)" x="0" y="4.44" font-size="12.4" text-anchor="start" font-weight="normal" fill="#2e2e2e">Intercept</text>
<text transform="translate(884.40,781.15)" x="0" y="4.44" font-size="12.4" text-anchor="end" font-weight="normal" fill="#2e2e2e">0.028</text>
<text transform="translate(790.60,797.15)" x="0" y="4.44" font-size="12.4" text-anchor="start" font-weight="normal" fill="#2e2e2e">Slope</text>
<text transform="translate(884.40,797.15)" x="0" y="4.44" font-size="12.4" text-anchor="end" font-weight="normal" fill="#2e2e2e">1.082</text>
<text transform="translate(790.60,813.15)" x="0" y="4.44" font-size="12.4" text-anchor="start" font-weight="normal" fill="#2e2e2e">Emax</text>
<text transform="translate(884.40,813.15)" x="0" y="4.44" font-size="12.4" text-anchor="end" font-weight="normal" fill="#2e2e2e">0.071</text>
<text transform="translate(790.60,829.15)" x="0" y="4.44" font-size="12.4" text-anchor="start" font-weight="normal" fill="#2e2e2e">E90</text>
<text transform="translate(884.40,829.15)" x="0" y="4.44" font-size="12.4" text-anchor="end" font-weight="normal" fill="#2e2e2e">0.019</text>
<text transform="translate(790.60,845.15)" x="0" y="4.44" font-size="12.4" text-anchor="start" font-weight="normal" fill="#2e2e2e">Eavg</text>
<text transform="translate(884.40,845.15)" x="0" y="4.44" font-size="12.4" text-anchor="end" font-weight="normal" fill="#2e2e2e">0.011</text>
<text transform="translate(790.60,861.15)" x="0" y="4.44" font-size="12.4" text-anchor="start" font-weight="normal" fill="#2e2e2e">S:z</text>
<text transform="translate(884.40,861.15)" x="0" y="4.44" font-size="12.4" text-anchor="end" font-weight="normal" fill="#2e2e2e">-0.512</text>
<text transform="translate(790.60,877.15)" x="0" y="4.44" font-size="12.4" text-anchor="start" font-weight="normal" fill="#2e2e2e">S:p</text>
<text transform="translate(884.40,877.15)" x="0" y="4.44" font-size="12.4" text-anchor="end" font-weight="normal" fill="#2e2e2e">0.608</text>
<path d="M795.6,1014.1V964.5M798.9,1014.1V976.7M803.7,1014.1V973.1M807.6,1014.1V960.2M812.1,1014.1V976.7M815.7,1014.1V990.9M820.1,1014.1V1005.1M825.0,1014.1V1001.5M828.6,1014.1V1004.8M833.6,1014.1V993.5M836.8,1014.1V1000.2M841.7,1014.1V1004.0M845.6,1014.1V1004.8M849.5,1014.1V1004.0M853.3,1014.1V1004.0M858.2,1014.1V1004.0M862.1,1014.1V1004.8M866.5,1014.1V1000.6M870.1,1014.1V993.5M875.0,1014.1V990.9M878.5,1014.1V1004.8M883.0,1014.1V1000.2M886.9,1014.1V1000.2M891.4,1014.1V997.6M896.1,1014.1V1001.8M899.8,1014.1V1004.0M904.3,1014.1V1001.8M908.1,1014.1V1001.8M912.6,1014.1V1000.2M916.5,1014.1V1010.2M921.0,1014.1V1001.2M924.2,1014.1V1004.8M929.4,1014.1V1007.9M932.6,1014.1V1007.6M937.4,1014.1V1007.6M941.0,1014.1V1004.8M946.2,1014.1V1009.9M950.2,1014.1V1011.3M954.2,1014.1V1009.9M958.1,1014.1V1008.6M962.1,1014.1V1009.9M966.1,1014.1V1005.9M970.9,1014.1V1009.9M975.4,1014.1V1011.3M987.4,1014.1V1011.3M992.7,1014.1V1011.3M996.7,1014.1V1011.3M1000.2,1014.1V1011.3M1012.7,1014.1V1011.3M1025.9,1014.1V1011.3M1029.4,1014.1V1011.3M1047.2,1014.1V1012.6" stroke="#1a1a1a" stroke-width="1.3" fill="none"/>
<polyline points="791.4,1013.2 795.6,1010.5 799.8,1007.7 804.0,1004.7 808.2,1001.7 812.3,998.5 816.5,995.3 820.7,992.1 824.9,988.8 829.1,985.5 833.2,982.1 837.4,978.7 841.6,975.2 845.8,971.8 850.0,968.3 854.1,964.7 858.3,961.2 862.5,957.6 866.7,954.0 870.9,950.4 875.0,946.8 879.2,943.1 883.4,939.5 887.6,935.8 891.7,932.1 895.9,928.4 900.1,924.7 904.3,921.0 908.5,917.2 912.6,913.5 916.8,909.7 921.0,905.9 925.2,902.1 929.4,898.4 933.5,894.6 937.7,890.8 941.9,886.9 946.1,883.1 950.3,879.3 954.4,875.5 958.6,871.7 962.8,867.8 967.0,864.0 971.2,860.2 975.3,856.3 979.5,852.5 983.7,848.7 987.9,844.8 992.1,841.0 996.2,837.2 1000.4,833.3 1004.6,829.5 1008.8,825.7 1013.0,821.9 1017.1,818.0 1021.3,814.2 1025.5,810.4 1029.7,806.6 1033.9,802.8 1038.0,799.0 1042.2,795.2 1046.4,791.5 1050.6,787.7 1054.8,783.9 1058.9,780.2 1063.1,776.4 1067.3,772.7 1071.5,769.0 1075.7,765.3 1079.8,761.6 1084.0,757.9 1088.2,754.2 1092.4,750.6 1096.6,746.9 1100.7,743.3 1104.9,739.7 1109.1,736.1 1113.3,732.5 1117.4,729.0 1121.6,725.4 1125.8,721.9 1130.0,718.4 1134.2,714.9 1138.3,711.5 1142.5,708.1 1146.7,704.7 1150.9,701.3 1155.1,697.9 1159.2,694.6 1163.4,691.3 1167.6,688.1 1171.8,684.9 1176.0,681.7 1180.1,678.6 1184.3,675.5 1188.5,672.5 1192.7,669.5 1196.9,666.6 1201.0,663.8 1205.2,661.2 1209.4,658.8" fill="none" stroke="#222" stroke-width="1.25" stroke-linejoin="round" stroke-linecap="butt" />
<polyline points="790.2,1011.5 817.2,988.3 843.0,965.1 862.4,952.2 881.7,936.7 901.0,920.0 920.4,907.1 945.0,882.6 956.4,874.2 981.1,860.5 1008.5,844.1 1045.5,822.2" fill="none" stroke="#1a1a1a" stroke-width="1.7" stroke-linejoin="round" stroke-linecap="butt" stroke-dasharray="1.8 2.6"/>
<line x1="1023.5" y1="960.5" x2="1040.5" y2="960.5" stroke="#dcdcdc" stroke-width="5.8" stroke-linecap="round"/>
<text transform="translate(1049.40,962.50)" x="0" y="4.51" font-size="12.6" text-anchor="start" font-weight="normal" fill="#2e2e2e">Ideal</text>
<line x1="1022.7" y1="1004.6" x2="1041.7" y2="1004.6" stroke="#111" stroke-width="1.4" />
<text transform="translate(1049.40,1005.10)" x="0" y="4.51" font-size="12.6" text-anchor="start" font-weight="normal" fill="#2e2e2e">Logistic calibration</text>
<line x1="143.4" y1="1242.5" x2="143.4" y2="1622.0" stroke="#f5f5f5" stroke-width="1" />
<line x1="247.7" y1="1242.5" x2="247.7" y2="1622.0" stroke="#f5f5f5" stroke-width="1" />
<line x1="352.0" y1="1242.5" x2="352.0" y2="1622.0" stroke="#f5f5f5" stroke-width="1" />
<line x1="456.3" y1="1242.5" x2="456.3" y2="1622.0" stroke="#f5f5f5" stroke-width="1" />
<line x1="560.6" y1="1242.5" x2="560.6" y2="1622.0" stroke="#f5f5f5" stroke-width="1" />
<line x1="143.4" y1="1281.1" x2="577.3" y2="1281.1" stroke="#f5f5f5" stroke-width="1" />
<line x1="143.4" y1="1374.3" x2="577.3" y2="1374.3" stroke="#f5f5f5" stroke-width="1" />
<line x1="143.4" y1="1467.4" x2="577.3" y2="1467.4" stroke="#f5f5f5" stroke-width="1" />
<line x1="143.4" y1="1560.6" x2="577.3" y2="1560.6" stroke="#f5f5f5" stroke-width="1" />
<line x1="125.7" y1="1281.1" x2="125.7" y2="1560.6" stroke="#222" stroke-width="1.5" />
<line x1="115.4" y1="1560.6" x2="125.7" y2="1560.6" stroke="#222" stroke-width="1.5" />
<text transform="translate(92.20,1560.60) rotate(-90) scale(0.94,1)" x="0" y="7.30" font-size="20.4" text-anchor="middle" font-weight="normal" fill="#2e2e2e">0.0</text>
<line x1="115.4" y1="1467.4" x2="125.7" y2="1467.4" stroke="#222" stroke-width="1.5" />
<text transform="translate(92.20,1467.43) rotate(-90) scale(0.94,1)" x="0" y="7.30" font-size="20.4" text-anchor="middle" font-weight="normal" fill="#2e2e2e">0.1</text>
<line x1="115.4" y1="1374.3" x2="125.7" y2="1374.3" stroke="#222" stroke-width="1.5" />
<text transform="translate(92.20,1374.26) rotate(-90) scale(0.94,1)" x="0" y="7.30" font-size="20.4" text-anchor="middle" font-weight="normal" fill="#2e2e2e">0.2</text>
<line x1="115.4" y1="1281.1" x2="125.7" y2="1281.1" stroke="#222" stroke-width="1.5" />
<text transform="translate(92.20,1281.09) rotate(-90) scale(0.94,1)" x="0" y="7.30" font-size="20.4" text-anchor="middle" font-weight="normal" fill="#2e2e2e">0.3</text>
<line x1="143.4" y1="1622.2" x2="560.6" y2="1622.2" stroke="#222" stroke-width="1.5" />
<line x1="143.4" y1="1622.2" x2="143.4" y2="1634.0" stroke="#222" stroke-width="1.5" />
<text transform="translate(143.40,1656.40) scale(0.96,1)" x="0" y="7.09" font-size="19.8" text-anchor="middle" font-weight="normal" fill="#2e2e2e">0.0</text>
<line x1="247.7" y1="1622.2" x2="247.7" y2="1634.0" stroke="#222" stroke-width="1.5" />
<text transform="translate(247.70,1656.40) scale(0.96,1)" x="0" y="7.09" font-size="19.8" text-anchor="middle" font-weight="normal" fill="#2e2e2e">0.2</text>
<line x1="352.0" y1="1622.2" x2="352.0" y2="1634.0" stroke="#222" stroke-width="1.5" />
<text transform="translate(352.00,1656.40) scale(0.96,1)" x="0" y="7.09" font-size="19.8" text-anchor="middle" font-weight="normal" fill="#2e2e2e">0.4</text>
<line x1="456.3" y1="1622.2" x2="456.3" y2="1634.0" stroke="#222" stroke-width="1.5" />
<text transform="translate(456.30,1656.40) scale(0.96,1)" x="0" y="7.09" font-size="19.8" text-anchor="middle" font-weight="normal" fill="#2e2e2e">0.6</text>
<line x1="560.6" y1="1622.2" x2="560.6" y2="1634.0" stroke="#222" stroke-width="1.5" />
<text transform="translate(560.60,1656.40) scale(0.96,1)" x="0" y="7.09" font-size="19.8" text-anchor="middle" font-weight="normal" fill="#2e2e2e">0.8</text>
<text transform="translate(351.40,1701.95) scale(0.976,1)" x="0" y="6.77" font-size="18.9" text-anchor="middle" font-weight="normal" fill="#2e2e2e">High Risk Threshold</text>
<text transform="translate(47.00,1430.20) rotate(-90) scale(0.95,1)" x="0" y="7.16" font-size="20" text-anchor="middle" font-weight="normal" fill="#2e2e2e">Net Benefit</text>
<line x1="143.4" y1="1560.6" x2="577.3" y2="1560.6" stroke="#333" stroke-width="1.6" />
<polyline points="143.4,1281.1 146.0,1284.4 148.6,1287.7 151.2,1291.0 153.8,1294.4 156.4,1297.8 159.0,1301.3 161.7,1304.7 164.3,1308.3 166.9,1311.8 169.5,1315.4 172.1,1319.0 174.7,1322.7 177.3,1326.4 179.9,1330.2 182.5,1334.0 185.1,1337.8 187.7,1341.7 190.3,1345.6 192.9,1349.6 195.6,1353.6 198.2,1357.6 200.8,1361.7 203.4,1365.8 206.0,1370.0 208.6,1374.3 211.2,1378.5 213.8,1382.9 216.4,1387.3 219.0,1391.7 221.6,1396.2 224.2,1400.7 226.8,1405.3 229.4,1410.0 232.1,1414.7 234.7,1419.4 237.3,1424.3 239.9,1429.1 242.5,1434.1 245.1,1439.1 247.7,1444.1 250.3,1449.3 252.9,1454.5 255.5,1459.7 258.1,1465.0 260.7,1470.4 263.3,1475.9 266.0,1481.4 268.6,1487.0 271.2,1492.7 273.8,1498.5 276.4,1504.3 279.0,1510.2 281.6,1516.2 284.2,1522.3 286.8,1528.5 289.4,1534.7 292.0,1541.1 294.6,1547.5 297.2,1554.0 299.9,1560.6 302.5,1567.3 305.1,1574.1 307.7,1581.0 310.3,1588.0 312.9,1595.1 315.5,1602.3 318.1,1609.6 320.7,1617.1 322.2,1621.5" fill="none" stroke="#a8a8a8" stroke-width="1.1" stroke-linejoin="round" stroke-linecap="butt" />
<polyline points="142.6,1281.3 147.7,1286.1 153.4,1294.2 160.6,1301.4 168.7,1313.5 173.5,1317.5 178.3,1324.8 184.8,1328.0 194.5,1336.1 200.9,1340.9 209.0,1352.2 215.4,1361.1 225.1,1366.7 234.8,1377.2 242.8,1388.5 255.7,1397.3 265.4,1408.6 273.4,1411.0 281.5,1424.7 287.9,1436.0 302.4,1446.5 313.7,1467.5 322.0,1470.6 330.0,1485.0 340.0,1490.0 350.0,1505.0 357.5,1507.5 362.5,1512.4 372.4,1516.2 380.0,1513.7 392.4,1513.7 397.4,1516.2 403.7,1527.4 412.4,1531.2 422.4,1537.4 427.4,1541.2 434.9,1552.4 439.9,1561.2 444.9,1561.2 449.9,1557.4 457.4,1557.4 464.9,1550.0 472.4,1550.0 477.4,1553.7 483.6,1555.0 487.4,1561.2 494.9,1562.4 499.9,1564.9 504.9,1564.9 509.8,1561.2 514.8,1561.2 522.3,1556.2 527.3,1555.0 532.3,1557.4 539.8,1551.2 547.3,1555.0 554.8,1557.4 577.3,1557.4" fill="none" stroke="#E3141B" stroke-width="2.6" stroke-linejoin="round" stroke-linecap="butt" />
<rect x="450.4" y="1238.5" width="126.9" height="224.0" fill="#fff" stroke="#222" stroke-width="1.5"/>
<line x1="462.9" y1="1293.7" x2="491.1" y2="1293.7" stroke="#E3141B" stroke-width="2.6" />
<text transform="translate(503.60,1296.90) scale(0.97,1)" x="0" y="6.84" font-size="19.1" text-anchor="start" font-weight="normal" fill="#2e2e2e">model</text>
<line x1="462.9" y1="1350.2" x2="491.1" y2="1350.2" stroke="#b0b0b0" stroke-width="1.3" />
<text transform="translate(503.60,1353.40) scale(0.97,1)" x="0" y="6.84" font-size="19.1" text-anchor="start" font-weight="normal" fill="#2e2e2e">All</text>
<line x1="462.9" y1="1406.7" x2="491.1" y2="1406.7" stroke="#333" stroke-width="1.6" />
<text transform="translate(503.60,1409.90) scale(0.97,1)" x="0" y="6.84" font-size="19.1" text-anchor="start" font-weight="normal" fill="#2e2e2e">None</text>
<line x1="792.9" y1="1243.7" x2="792.9" y2="1623.2" stroke="#f5f5f5" stroke-width="1" />
<line x1="897.2" y1="1243.7" x2="897.2" y2="1623.2" stroke="#f5f5f5" stroke-width="1" />
<line x1="1001.5" y1="1243.7" x2="1001.5" y2="1623.2" stroke="#f5f5f5" stroke-width="1" />
<line x1="1105.8" y1="1243.7" x2="1105.8" y2="1623.2" stroke="#f5f5f5" stroke-width="1" />
<line x1="1210.1" y1="1243.7" x2="1210.1" y2="1623.2" stroke="#f5f5f5" stroke-width="1" />
<line x1="792.9" y1="1282.3" x2="1226.8" y2="1282.3" stroke="#f5f5f5" stroke-width="1" />
<line x1="792.9" y1="1375.5" x2="1226.8" y2="1375.5" stroke="#f5f5f5" stroke-width="1" />
<line x1="792.9" y1="1468.6" x2="1226.8" y2="1468.6" stroke="#f5f5f5" stroke-width="1" />
<line x1="792.9" y1="1561.8" x2="1226.8" y2="1561.8" stroke="#f5f5f5" stroke-width="1" />
<line x1="775.2" y1="1282.3" x2="775.2" y2="1561.8" stroke="#222" stroke-width="1.5" />
<line x1="764.9" y1="1561.8" x2="775.2" y2="1561.8" stroke="#222" stroke-width="1.5" />
<text transform="translate(741.70,1561.80) rotate(-90) scale(0.94,1)" x="0" y="7.30" font-size="20.4" text-anchor="middle" font-weight="normal" fill="#2e2e2e">0.0</text>
<line x1="764.9" y1="1468.6" x2="775.2" y2="1468.6" stroke="#222" stroke-width="1.5" />
<text transform="translate(741.70,1468.63) rotate(-90) scale(0.94,1)" x="0" y="7.30" font-size="20.4" text-anchor="middle" font-weight="normal" fill="#2e2e2e">0.1</text>
<line x1="764.9" y1="1375.5" x2="775.2" y2="1375.5" stroke="#222" stroke-width="1.5" />
<text transform="translate(741.70,1375.46) rotate(-90) scale(0.94,1)" x="0" y="7.30" font-size="20.4" text-anchor="middle" font-weight="normal" fill="#2e2e2e">0.2</text>
<line x1="764.9" y1="1282.3" x2="775.2" y2="1282.3" stroke="#222" stroke-width="1.5" />
<text transform="translate(741.70,1282.29) rotate(-90) scale(0.94,1)" x="0" y="7.30" font-size="20.4" text-anchor="middle" font-weight="normal" fill="#2e2e2e">0.3</text>
<line x1="792.9" y1="1623.4" x2="1210.1" y2="1623.4" stroke="#222" stroke-width="1.5" />
<line x1="792.9" y1="1623.4" x2="792.9" y2="1635.2" stroke="#222" stroke-width="1.5" />
<text transform="translate(792.90,1657.60) scale(0.96,1)" x="0" y="7.09" font-size="19.8" text-anchor="middle" font-weight="normal" fill="#2e2e2e">0.0</text>
<line x1="897.2" y1="1623.4" x2="897.2" y2="1635.2" stroke="#222" stroke-width="1.5" />
<text transform="translate(897.20,1657.60) scale(0.96,1)" x="0" y="7.09" font-size="19.8" text-anchor="middle" font-weight="normal" fill="#2e2e2e">0.2</text>
<line x1="1001.5" y1="1623.4" x2="1001.5" y2="1635.2" stroke="#222" stroke-width="1.5" />
<text transform="translate(1001.50,1657.60) scale(0.96,1)" x="0" y="7.09" font-size="19.8" text-anchor="middle" font-weight="normal" fill="#2e2e2e">0.4</text>
<line x1="1105.8" y1="1623.4" x2="1105.8" y2="1635.2" stroke="#222" stroke-width="1.5" />
<text transform="translate(1105.80,1657.60) scale(0.96,1)" x="0" y="7.09" font-size="19.8" text-anchor="middle" font-weight="normal" fill="#2e2e2e">0.6</text>
<line x1="1210.1" y1="1623.4" x2="1210.1" y2="1635.2" stroke="#222" stroke-width="1.5" />
<text transform="translate(1210.10,1657.60) scale(0.96,1)" x="0" y="7.09" font-size="19.8" text-anchor="middle" font-weight="normal" fill="#2e2e2e">0.8</text>
<text transform="translate(1000.90,1703.15) scale(0.976,1)" x="0" y="6.77" font-size="18.9" text-anchor="middle" font-weight="normal" fill="#2e2e2e">High Risk Threshold</text>
<text transform="translate(696.50,1431.40) rotate(-90) scale(0.95,1)" x="0" y="7.16" font-size="20" text-anchor="middle" font-weight="normal" fill="#2e2e2e">Net Benefit</text>
<line x1="792.9" y1="1561.8" x2="1226.8" y2="1561.8" stroke="#333" stroke-width="1.6" />
<polyline points="792.9,1282.3 795.5,1285.6 798.1,1288.9 800.7,1292.2 803.3,1295.6 805.9,1299.0 808.5,1302.5 811.2,1305.9 813.8,1309.5 816.4,1313.0 819.0,1316.6 821.6,1320.2 824.2,1323.9 826.8,1327.6 829.4,1331.4 832.0,1335.2 834.6,1339.0 837.2,1342.9 839.8,1346.8 842.4,1350.8 845.0,1354.8 847.7,1358.8 850.3,1362.9 852.9,1367.0 855.5,1371.2 858.1,1375.5 860.7,1379.7 863.3,1384.1 865.9,1388.5 868.5,1392.9 871.1,1397.4 873.7,1401.9 876.3,1406.5 878.9,1411.2 881.6,1415.9 884.2,1420.6 886.8,1425.5 889.4,1430.3 892.0,1435.3 894.6,1440.3 897.2,1445.3 899.8,1450.5 902.4,1455.7 905.0,1460.9 907.6,1466.2 910.2,1471.6 912.8,1477.1 915.5,1482.6 918.1,1488.2 920.7,1493.9 923.3,1499.7 925.9,1505.5 928.5,1511.4 931.1,1517.4 933.7,1523.5 936.3,1529.7 938.9,1535.9 941.5,1542.3 944.1,1548.7 946.7,1555.2 949.4,1561.8 952.0,1568.5 954.6,1575.3 957.2,1582.2 959.8,1589.2 962.4,1596.3 965.0,1603.5 967.6,1610.8 970.2,1618.3 971.7,1622.7" fill="none" stroke="#a8a8a8" stroke-width="1.1" stroke-linejoin="round" stroke-linecap="butt" />
<polyline points="791.6,1282.3 796.7,1287.4 801.8,1299.0 809.0,1306.3 820.6,1317.9 826.4,1321.5 835.1,1329.5 839.5,1336.0 843.8,1338.2 849.6,1336.7 854.0,1344.0 859.8,1346.2 869.9,1355.6 874.3,1358.5 880.1,1357.8 885.9,1362.8 890.2,1374.4 897.5,1386.0 904.7,1388.2 910.5,1396.2 922.2,1407.1 932.3,1426.7 938.1,1430.3 943.9,1438.3 951.2,1444.1 962.6,1450.1 985.1,1470.2 1001.4,1484.0 1006.4,1479.7 1012.7,1482.7 1020.2,1505.3 1029.0,1500.3 1037.8,1507.8 1047.8,1502.8 1052.8,1502.8 1072.9,1512.8 1082.9,1534.1 1090.4,1530.3 1099.2,1517.8 1105.4,1535.3 1110.5,1535.3 1120.5,1550.4 1130.5,1552.9 1136.8,1550.4 1143.0,1552.9 1151.8,1569.2 1156.8,1555.4 1161.8,1555.4 1168.1,1568.4 1173.1,1568.4 1180.6,1562.9 1185.6,1560.9 1227.0,1560.9" fill="none" stroke="#E3141B" stroke-width="2.6" stroke-linejoin="round" stroke-linecap="butt" />
<rect x="1099.9" y="1239.7" width="126.9" height="224.0" fill="#fff" stroke="#222" stroke-width="1.5"/>
<line x1="1112.4" y1="1294.9" x2="1140.6" y2="1294.9" stroke="#E3141B" stroke-width="2.6" />
<text transform="translate(1153.10,1298.10) scale(0.97,1)" x="0" y="6.84" font-size="19.1" text-anchor="start" font-weight="normal" fill="#2e2e2e">model</text>
<line x1="1112.4" y1="1351.4" x2="1140.6" y2="1351.4" stroke="#b0b0b0" stroke-width="1.3" />
<text transform="translate(1153.10,1354.60) scale(0.97,1)" x="0" y="6.84" font-size="19.1" text-anchor="start" font-weight="normal" fill="#2e2e2e">All</text>
<line x1="1112.4" y1="1407.9" x2="1140.6" y2="1407.9" stroke="#333" stroke-width="1.6" />
<text transform="translate(1153.10,1411.10) scale(0.97,1)" x="0" y="6.84" font-size="19.1" text-anchor="start" font-weight="normal" fill="#2e2e2e">None</text>
<text transform="translate(0.00,20.15)" x="0" y="10.74" font-size="30" text-anchor="start" font-weight="bold" fill="#000">A</text>
<text transform="translate(652.20,20.00)" x="0" y="10.74" font-size="30" text-anchor="start" font-weight="bold" fill="#000">B</text>
<text transform="translate(0.20,571.90)" x="0" y="10.74" font-size="30" text-anchor="start" font-weight="bold" fill="#000">C</text>
<text transform="translate(654.40,569.40)" x="0" y="10.74" font-size="30" text-anchor="start" font-weight="bold" fill="#000">D</text>
<text transform="translate(0.50,1165.85)" x="0" y="10.74" font-size="30" text-anchor="start" font-weight="bold" fill="#000">E</text>
<text transform="translate(651.70,1166.20)" x="0" y="10.74" font-size="30" text-anchor="start" font-weight="bold" fill="#000">F</text>
</svg></body></html>
